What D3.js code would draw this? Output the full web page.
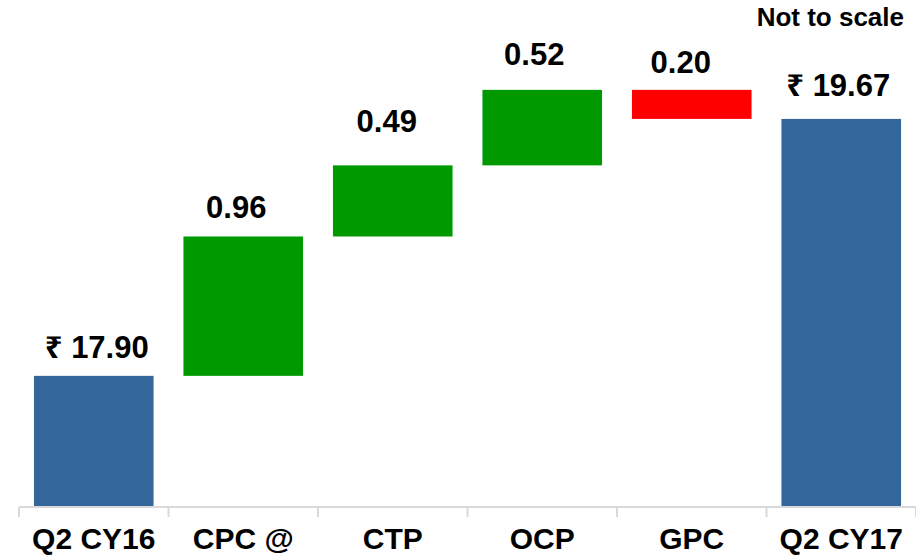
<!DOCTYPE html>
<html>
<head>
<meta charset="utf-8">
<script src="https://cdn.jsdelivr.net/npm/d3@7"></script>
<style>
  html, body { margin: 0; padding: 0; background: #fff; }
  svg text { font-family: "Liberation Sans", Arial, "Noto Sans", "DejaVu Sans", sans-serif; font-weight: bold; fill: #000; }
</style>
</head>
<body>
<div id="chart"></div>
<script>
// chart data
const categories = ["Q2 CY16", "CPC @", "CTP", "OCP", "GPC", "Q2 CY17"];
const values = [17.90, 0.96, 0.49, 0.52, -0.20, 19.67];
const kinds = ["total", "delta", "delta", "delta", "delta", "total"];
const valueLabels = ["₹ 17.90", "0.96", "0.49", "0.52", "0.20", "₹ 19.67"];
const yDomain = [17, 20]; // axis is broken ("not to scale"), bars start at 17

// hand placed label nudges from the slide [dx, gap above bar]
const labelNudge = [[3, 18], [-7, 18], [-6, 33], [-8, 25], [-11, 17], [-3, 23]];

const width = 916, height = 559;
const colors = { total: "#336699", up: "#009900", down: "#ff0000" };

// build waterfall steps
let running = 0;
const steps = categories.map((c, i) => {
  let start, end;
  if (kinds[i] === "total") {
    start = yDomain[0];
    end = values[i];
    running = values[i];
  } else {
    start = running;
    end = running + values[i];
    running = end;
  }
  return {
    cat: c, start, end, label: valueLabels[i],
    color: kinds[i] === "total" ? colors.total : (values[i] >= 0 ? colors.up : colors.down)
  };
});

const svg = d3.select("#chart").append("svg")
  .attr("width", width)
  .attr("height", height);

const x = d3.scaleBand()
  .domain(categories)
  .range([19, 916])
  .paddingInner(0.2)
  .paddingOuter(0.1);

const y = d3.scaleLinear()
  .domain(yDomain)
  .range([506.5, 71]);

// bars
svg.selectAll("rect.bar")
  .data(steps)
  .enter()
  .append("rect")
  .attr("class", "bar")
  .attr("x", d => x(d.cat))
  .attr("width", x.bandwidth())
  .attr("y", d => y(Math.max(d.start, d.end)))
  .attr("height", d => Math.abs(y(d.start) - y(d.end)))
  .attr("fill", d => d.color);

// value labels
svg.selectAll("text.val")
  .data(steps)
  .enter()
  .append("text")
  .attr("class", "val")
  .attr("x", (d, i) => x(d.cat) + x.bandwidth() / 2 + labelNudge[i][0])
  .attr("y", (d, i) => y(Math.max(d.start, d.end)) - labelNudge[i][1])
  .attr("text-anchor", "middle")
  .style("font-size", "31px")
  .text(d => d.label);

// category axis: baseline with ticks at band boundaries
const axisY = 507;
const step = x.step();
const x0 = x.range()[0];
svg.append("line")
  .attr("x1", x0).attr("x2", width)
  .attr("y1", axisY).attr("y2", axisY)
  .attr("stroke", "#d9d9d9")
  .attr("stroke-width", 2);

svg.selectAll("line.tick")
  .data(d3.range(categories.length + 1))
  .enter()
  .append("line")
  .attr("class", "tick")
  .attr("x1", i => x0 + i * step)
  .attr("x2", i => x0 + i * step)
  .attr("y1", axisY)
  .attr("y2", axisY + 10)
  .attr("stroke", "#d9d9d9")
  .attr("stroke-width", 2);

svg.selectAll("text.cat")
  .data(categories)
  .enter()
  .append("text")
  .attr("class", "cat")
  .attr("x", d => x(d) + x.bandwidth() / 2)
  .attr("y", 549)
  .attr("text-anchor", "middle")
  .style("font-size", "30px")
  .text(d => d);

// note
svg.append("text")
  .attr("x", 904)
  .attr("y", 26)
  .attr("text-anchor", "end")
  .style("font-size", "26px")
  .text("Not to scale");
</script>
</body>
</html>
